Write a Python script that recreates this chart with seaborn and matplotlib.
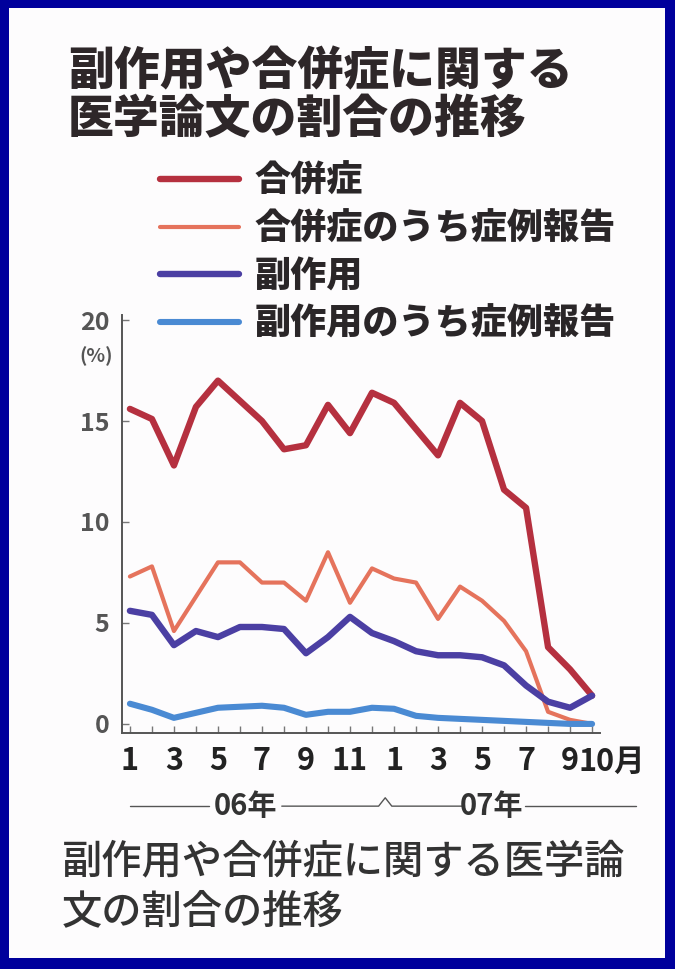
import numpy as np
import pandas as pd
import matplotlib.pyplot as plt
import matplotlib.transforms as mtrans
from matplotlib.patches import Rectangle
import seaborn as sns

# monthly share of papers (%), Jan 06 .. Oct 07
months = [1, 2, 3, 4, 5, 6, 7, 8, 9, 10, 11, 12, 1, 2, 3, 4, 5, 6, 7, 8, 9, 10]
gappei = [15.6, 15.1, 12.8, 15.7, 17.0, 16.0, 15.0, 13.6, 13.8, 15.8, 14.4, 16.4,
          15.9, 14.6, 13.3, 15.9, 15.0, 11.6, 10.7, 3.8, 2.7, 1.4]
gappei_case = [7.3, 7.8, 4.6, 6.3, 8.0, 8.0, 7.0, 7.0, 6.1, 8.5, 6.0, 7.7,
               7.2, 7.0, 5.2, 6.8, 6.1, 5.1, 3.6, 0.6, 0.2, 0.0]
fukusayo = [5.6, 5.4, 3.9, 4.6, 4.3, 4.8, 4.8, 4.7, 3.5, 4.3, 5.3, 4.5,
            4.1, 3.6, 3.4, 3.4, 3.3, 2.9, 1.9, 1.1, 0.8, 1.4]
fukusayo_case = [1.0, 0.7, 0.3, 0.55, 0.8, 0.85, 0.9, 0.8, 0.45, 0.6, 0.6, 0.8,
                 0.75, 0.4, 0.3, 0.25, 0.2, 0.15, 0.1, 0.05, 0.0, 0.0]

series_names = ["合併症", "合併症のうち症例報告", "副作用", "副作用のうち症例報告"]
series_vals = [gappei, gappei_case, fukusayo, fukusayo_case]
colors = ["#b5303f", "#e5735c", "#4b3fa3", "#4a8ad3"]
widths = [4.6, 3.0, 4.6, 4.4]

ytick_vals = [0, 5, 10, 15, 20]

rows = []
for name, vals in zip(series_names, series_vals):
    for i, v in enumerate(vals):
        rows.append({"idx": i, "value": v, "series": name})
df = pd.DataFrame(rows)

sns.set_theme(style="white")
plt.rcParams['font.family'] = ['Noto Sans CJK JP', 'DejaVu Sans']

fig = plt.figure(figsize=(6.75, 9.69), dpi=100)
fig.patch.set_facecolor("#00009c")
fig.add_artist(Rectangle((9/675, 11/969), (665-9)/675, (961-11)/969,
                         transform=fig.transFigure, facecolor="#fdfcfd",
                         edgecolor="none", zorder=0))

ax = fig.add_axes([122/675, (969-733)/969, 478/675, 418/969])
ax.patch.set_alpha(0)

for name, c, lw in zip(series_names, colors, widths):
    sns.lineplot(data=df[df.series == name], x="idx", y="value", color=c,
                 linewidth=lw, ax=ax, label=name, legend=False,
                 solid_joinstyle="round", solid_capstyle="round")

ax.set_xlim(-0.36, 21.36)
ax.set_ylim(-0.45, 20.25)
ax.set_xlabel("")
ax.set_ylabel("")
for s in ["top", "right"]:
    ax.spines[s].set_visible(False)
for s in ["left", "bottom"]:
    ax.spines[s].set_color("#555555")
    ax.spines[s].set_linewidth(1.4)

ax.set_yticks(ytick_vals)
ax.set_yticklabels([str(v) for v in ytick_vals])
ax.tick_params(axis="y", direction="in", length=5, width=1, color="#777777",
               pad=9, labelsize=18, labelcolor="#555555", left=True)

xlabels = []
for i, m in enumerate(months):
    if i == len(months) - 1:
        xlabels.append(f"{m}月")
    elif m % 2 == 1:
        xlabels.append(str(m))
    else:
        xlabels.append("")
ax.set_xticks(range(len(months)))
ax.set_xticklabels(xlabels)
ax.tick_params(axis="x", direction="in", length=5, width=1, color="#777777",
               pad=9, labelsize=22, labelcolor="#222222", bottom=True)
for t in ax.get_xticklabels():
    t.set_fontweight("bold")
last = ax.get_xticklabels()[-1]
last.set_transform(last.get_transform() +
                   mtrans.ScaledTranslation(0.2, 0, fig.dpi_scale_trans))
for t in ax.get_yticklabels():
    t.set_fontweight("bold")

bt = mtrans.blended_transform_factory(ax.transAxes, ax.transData)
ax.text(-0.055, 18.2, "(%)", transform=bt, ha="center", va="center",
        fontsize=14, color="#555555", fontweight="bold")

# year row under the month labels
yt = mtrans.blended_transform_factory(ax.transData, ax.transAxes)
yr = -0.175
kw = dict(transform=yt, color="#555555", lw=1.0, clip_on=False)
ax.plot([0, 3.6], [yr, yr], **kw)
ax.plot([6.9, 11.3, 11.6, 11.9, 15.1], [yr, yr, yr + 0.02, yr, yr], **kw)
ax.plot([17.95, 23.0], [yr, yr], **kw)
ax.text(5.25, yr, "06年", transform=yt, ha="center", va="center",
        fontsize=21, fontweight="bold", color="#333333")
ax.text(16.45, yr, "07年", transform=yt, ha="center", va="center",
        fontsize=21, fontweight="bold", color="#333333")

# title
fig.text(68/675, 1 - 72/969, "副作用や合併症に関する", ha="left", va="center",
         fontsize=33, fontweight="heavy", color="#2e2729")
fig.text(68/675, 1 - 120/969, "医学論文の割合の推移", ha="left", va="center",
         fontsize=33, fontweight="heavy", color="#2e2729")

handles = ax.get_lines()[:4]
fig.legend(handles, series_names, loc="upper left",
           bbox_to_anchor=(160/675, 1 - 163/969), frameon=False,
           handlelength=2.2, handletextpad=0.42,
           labelspacing=0.32, borderaxespad=0, borderpad=0,
           prop={"weight": "heavy", "size": 26})
for t in fig.legends[0].get_texts():
    t.set_color("#2a2628")

# caption
fig.text(62/675, 1 - 862/969, "副作用や合併症に関する医学論", ha="left",
         va="center", fontsize=29, fontweight="medium", color="#333333")
fig.text(62/675, 1 - 912/969, "文の割合の推移", ha="left",
         va="center", fontsize=29, fontweight="medium", color="#333333")

fig.savefig("out.png", dpi=100, facecolor=fig.get_facecolor())
